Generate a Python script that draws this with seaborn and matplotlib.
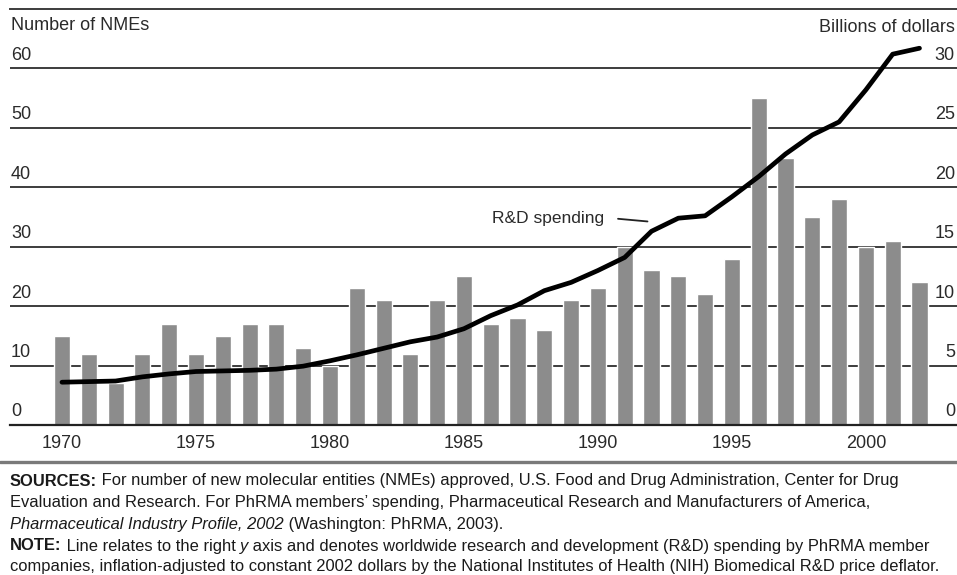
import matplotlib
matplotlib.use("Agg")
import matplotlib.pyplot as plt
import seaborn as sns
import pandas as pd
from matplotlib.transforms import offset_copy
from matplotlib.lines import Line2D

# ---- data ----
years = list(range(1970, 2003))
nmes = [15, 12, 7, 12, 17, 12, 15, 17, 17, 13, 10, 23, 21, 12, 21, 25, 17, 18, 16, 21,
        23, 30, 26, 25, 22, 28, 55, 45, 35, 38, 30, 31, 24]
rd_spending = [3.6, 3.65, 3.7, 4.05, 4.3, 4.5, 4.55, 4.6, 4.7, 4.95, 5.4, 5.9, 6.45, 7.0,
               7.4, 8.1, 9.2, 10.1, 11.3, 12.0, 13.0, 14.1, 16.3, 17.4, 17.6, 19.2, 20.9,
               22.8, 24.4, 25.5, 28.2, 31.2, 31.7]
left_ticks = [0, 10, 20, 30, 40, 50, 60]
right_ticks = [0, 5, 10, 15, 20, 25, 30]
year_ticks = [1970, 1975, 1980, 1985, 1990, 1995, 2000]

df = pd.DataFrame({"year": years, "nmes": nmes, "rd": rd_spending})

sns.set_theme(style="white")
plt.rcParams['font.family'] = ['Liberation Sans', 'DejaVu Sans']

W, H = 957, 575
fig = plt.figure(figsize=(W / 100, H / 100), dpi=100)
ax = fig.add_axes([10 / W, 150 / H, 947 / W, 416 / H])

TXT = '#2a2a2a'
GRID = '#3c3c3c'

sns.barplot(data=df, x="year", y="nmes", native_scale=True, color='#8c8c8c',
            saturation=1, width=0.6, ax=ax, zorder=2)
ax.set_xlim(1968.06, 2003.4)
ax.set_ylim(0, 70)
ax.set_yticks(left_ticks)
ax.set_yticklabels([])
ax.yaxis.grid(True, color=GRID, lw=1.4)
ax.set_axisbelow(True)
ax.set_xticks(year_ticks)
ax.set_xticklabels([str(y) for y in year_ticks], fontsize=13, color=TXT)
ax.tick_params(axis='both', length=0)
ax.tick_params(axis='x', pad=7)
ax.set_xlabel('')
ax.set_ylabel('')
for s in ['left', 'right']:
    ax.spines[s].set_visible(False)
ax.spines['top'].set_color(GRID)
ax.spines['top'].set_linewidth(1.4)
ax.spines['bottom'].set_color('#222222')
ax.spines['bottom'].set_linewidth(1.6)

ax2 = ax.twinx()
sns.lineplot(data=df, x="year", y="rd", color='black', lw=3.4, ax=ax2, zorder=5,
             solid_capstyle='round')
ax2.set_ylim(0, 35)
ax2.set_xlim(1968.06, 2003.4)
ax2.set_yticks([])
ax2.set_ylabel('')
ax2.set_xlabel('')
for s in ax2.spines.values():
    s.set_visible(False)

# y tick labels sitting above gridlines
lab_tr = offset_copy(ax.transData, fig=fig, x=0, y=13, units='dots')
for v in left_ticks:
    ax.text(1968.06 + 1 / 26.8, v, str(v), transform=lab_tr, ha='left', va='center',
            fontsize=13, color=TXT)
lab_tr2 = offset_copy(ax2.transData, fig=fig, x=0, y=13, units='dots')
for v in right_ticks:
    ax2.text(1968.06 + 945 / 26.8, v, str(v), transform=lab_tr2,
             ha='right', va='center', fontsize=13, color=TXT)

fig.text(11 / W, 1 - 26 / H, "Number of NMEs", ha='left', va='center', fontsize=13, color=TXT)
fig.text(955 / W, 1 - 27 / H, "Billions of dollars", ha='right', va='center', fontsize=13, color=TXT)

# R&D spending label
ax.text(1986.05, 34.8, "R&D spending", ha='left', va='center', fontsize=12.5, color=TXT, zorder=6)
ax.plot([1990.75, 1991.85], [34.7, 34.25], color='#222222', lw=1.3, zorder=6)

# footer rule
fig.add_artist(Line2D([0, 1], [1 - 462 / H, 1 - 462 / H], transform=fig.transFigure,
                      color='#7a7a7a', lw=2.4))

FS = 11.9
def rich_line(y_px, parts):
    prev = None
    for text, weight, style in parts:
        if prev is None:
            prev = fig.text(10 / W, 1 - y_px / H, text, ha='left', va='center', fontsize=FS,
                            fontweight=weight, fontstyle=style, color='#1a1a1a')
        else:
            prev = ax.annotate(text, xy=(1, 0.5), xycoords=prev, ha='left', va='center',
                               fontsize=FS, fontweight=weight, fontstyle=style,
                               color='#1a1a1a', annotation_clip=False)

rich_line(481, [("SOURCES:", 'bold', 'normal'),
                (" For number of new molecular entities (NMEs) approved, U.S. Food and Drug Administration, Center for Drug", 'normal', 'normal')])
rich_line(503, [("Evaluation and Research. For PhRMA members\u2019 spending, Pharmaceutical Research and Manufacturers of America,", 'normal', 'normal')])
rich_line(525, [("Pharmaceutical Industry Profile, 2002", 'normal', 'italic'),
                (" (Washington: PhRMA, 2003).", 'normal', 'normal')])
rich_line(546, [("NOTE:", 'bold', 'normal'),
                (" Line relates to the right ", 'normal', 'normal'),
                ("y", 'normal', 'italic'),
                (" axis and denotes worldwide research and development (R&D) spending by PhRMA member", 'normal', 'normal')])
rich_line(566, [("companies, inflation-adjusted to constant 2002 dollars by the National Institutes of Health (NIH) Biomedical R&D price deflator.", 'normal', 'normal')])

fig.savefig("out.png", dpi=100)
